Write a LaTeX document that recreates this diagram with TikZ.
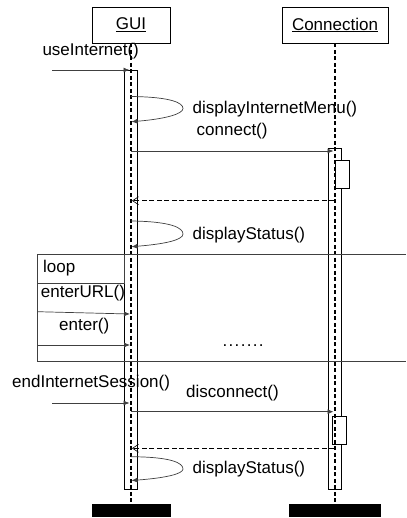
\documentclass[tikz,border=0pt]{standalone}
\usepackage{fontspec}
\setmainfont{Liberation Sans}
\usetikzlibrary{arrows.meta}
\begin{document}
\begin{tikzpicture}[x=1pt,y=-1pt,
  lbl/.style={font=\fontsize{17}{19}\selectfont, inner sep=0pt, anchor=west},
  objbox/.style={draw, line width=0.7pt, minimum height=36pt, inner sep=0pt, font=\fontsize{17}{19}\selectfont},
  actbar/.style={draw, fill=white, line width=0.7pt, minimum width=13pt, inner sep=0pt},
  endbar/.style={fill=black, minimum height=12.5pt, inner sep=0pt},
  lifeline/.style={line width=1.3pt, dash pattern=on 4pt off 2.5pt},
  msg/.style={line width=0.7pt, black!75, -{Latex[length=6pt,width=5pt]}},
  ret/.style={line width=1pt, dash pattern=on 5pt off 2.5pt, -{Straight Barb[length=6pt,width=8pt,line width=0.6pt]}},
  frame/.style={line width=0.7pt, black!75}]
\useasboundingbox (0,0) rectangle (406,518);
% object boxes
\node[objbox, minimum width=78pt] (gui) at (131,25) {\underline{GUI}};
\node[objbox, minimum width=106pt] (con) at (335,25) {\underline{Connection}};
% destruction bars
\node[endbar, minimum width=79pt] (guiend) at (131,510.5) {};
\node[endbar, minimum width=92pt] (conend) at (335,510.5) {};
% activation bars
\node[actbar, minimum height=419pt] (guiact) at (131,279.5) {};
\node[actbar, minimum height=341pt] (conact) at (335,318.5) {};
\node[actbar, minimum width=14pt, minimum height=28pt] (sub1) at (342,174.3) {};
\node[actbar, minimum width=14pt, minimum height=27.5pt] (sub2) at (339,430.5) {};
% lifelines
\draw[lifeline] (gui.south) -- (guiend.north);
\draw[lifeline] (con.south) -- (conend.north);
% loop frame
\coordinate (fTL) at (37.3,254);
\coordinate (fTR) at (406,254);
\coordinate (fBL) at (37.3,361);
\coordinate (fBR) at (406,361);
\coordinate (tabB) at (37.3,283.3);
\coordinate (tabC) at (124.7,283.3);
\coordinate (tabT) at (124.7,254);
\draw[frame] (fTR) -- (fTL) -- (fBL) -- (fBR);
\draw[frame] (tabB) -- (tabC) -- (tabT);
\node[lbl] (looplbl) at (43,268.5) {loop};
% messages
\coordinate (m1s) at (52,70);
\coordinate (m1e) at (129.5,70);
\draw[msg] (m1s) -- (m1e);
\node[lbl] (t1) at (42.3,51.5) {useInternet()};
% self loop 1
\coordinate (s1a) at (131,96.5);
\coordinate (s1t) at (183,108.5);
\coordinate (s1b) at (131.5,121.7);
\draw[msg] (s1a) .. controls (172,97) and (183,103) .. (s1t) .. controls (183,114) and (165,119) .. (s1b);
\node[lbl] (t2) at (192.5,109) {displayInternetMenu()};
\node[lbl] (t3) at (196.5,131.5) {connect()};
\coordinate (m2s) at (131,151);
\coordinate (m2e) at (333.5,151);
\draw[msg] (m2s) -- (m2e);
\coordinate (r1s) at (334,200.7);
\coordinate (r1e) at (132,200.7);
\draw[ret] (r1s) -- (r1e);
% self loop 2
\coordinate (s2a) at (131,221);
\coordinate (s2t) at (183,234);
\coordinate (s2b) at (131.5,246.7);
\draw[msg] (s2a) .. controls (172,221.5) and (183,228) .. (s2t) .. controls (183,240) and (165,244) .. (s2b);
\node[lbl] (t4) at (192.5,235) {displayStatus()};
% loop contents
\node[lbl] (t5) at (40.7,293.3) {enterURL()};
\coordinate (m3s) at (37.3,311.7);
\coordinate (m3e) at (130,314);
\draw[msg] (m3s) -- (m3e);
\node[lbl] (t6) at (59,326.5) {enter()};
\coordinate (m4s) at (37.3,345);
\coordinate (m4e) at (130,345);
\draw[msg] (m4s) -- (m4e);
\node[font=\fontsize{17}{19}\selectfont, inner sep=0pt, anchor=base west] (dots) at (222.5,346) {.\kern1.3pt.\kern1.3pt.\kern1.3pt.\kern1.3pt.\kern1.3pt.\kern1.3pt.};
% end session
\node[lbl] (t7) at (12,383.3) {endInternetSession()};
\coordinate (m5s) at (52,403);
\coordinate (m5e) at (129.5,403);
\draw[msg] (m5s) -- (m5e);
\node[lbl] (t8) at (186,393.3) {disconnect()};
\coordinate (m6s) at (131,411.7);
\coordinate (m6e) at (333.5,411.7);
\draw[msg] (m6s) -- (m6e);
\coordinate (r2s) at (334,448.3);
\coordinate (r2e) at (132,448.3);
\draw[ret] (r2s) -- (r2e);
% self loop 3
\coordinate (s3a) at (131,456.7);
\coordinate (s3t) at (183,469);
\coordinate (s3b) at (131.5,480.5);
\draw[msg] (s3a) .. controls (172,457) and (183,463) .. (s3t) .. controls (183,474) and (165,478) .. (s3b);
\node[lbl] (t9) at (192.5,469.3) {displayStatus()};
\end{tikzpicture}
\end{document}
